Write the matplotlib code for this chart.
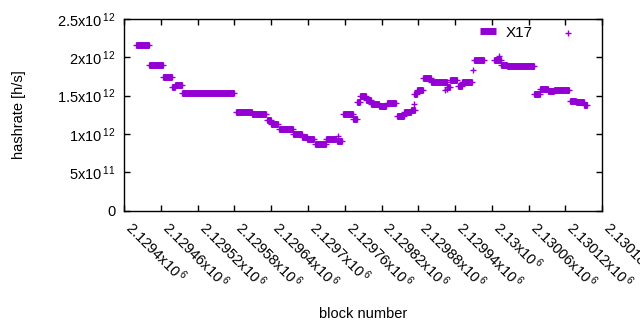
import matplotlib
matplotlib.use('Agg')
import numpy as np
import matplotlib.pyplot as plt
from matplotlib.lines import Line2D

plt.rcParams['font.family'] = ['Liberation Sans', 'DejaVu Sans']
plt.rcParams['mathtext.fontset'] = 'custom'
plt.rcParams['mathtext.rm'] = 'Liberation Sans'
plt.rcParams['mathtext.default'] = 'regular'

PURPLE = '#9400d3'

# runs of blocks sharing the same hashrate estimate
seg_start = [2129420, 2129440, 2129464, 2129478, 2129483, 2129494, 2129582, 2129609,
             2129633, 2129640, 2129653, 2129676, 2129690, 2129699, 2129711, 2129730,
             2129747, 2129757, 2129773, 2129780, 2129785, 2129795, 2129803, 2129815,
             2129829, 2129845, 2129857, 2129868, 2129873, 2129878, 2129887, 2129901,
             2129927, 2129931, 2129944, 2129952, 2129970, 2130004, 2130015, 2130025,
             2130069, 2130079, 2130091, 2130102, 2130127, 2130138, 2130150]
seg_end = [2129440, 2129463, 2129478, 2129483, 2129494, 2129580, 2129608, 2129632,
           2129640, 2129651, 2129675, 2129690, 2129698, 2129710, 2129729, 2129746,
           2129756, 2129773, 2129780, 2129785, 2129795, 2129803, 2129815, 2129828,
           2129843, 2129857, 2129868, 2129874, 2129878, 2129887, 2129900, 2129926,
           2129931, 2129943, 2129952, 2129968, 2129987, 2130015, 2130025, 2130068,
           2130079, 2130091, 2130102, 2130125, 2130138, 2130150, 2130155]
seg_hashrate = [2.16e12, 1.90e12, 1.745e12, 1.615e12, 1.64e12, 1.54e12, 1.29e12, 1.265e12,
                1.18e12, 1.13e12, 1.06e12, 0.995e12, 0.965e12, 0.935e12, 0.865e12, 0.93e12,
                0.915e12, 1.265e12, 1.20e12, 1.415e12, 1.49e12, 1.44e12, 1.395e12, 1.36e12,
                1.41e12, 1.24e12, 1.285e12, 1.31e12, 1.525e12, 1.567e12, 1.73e12, 1.68e12,
                1.61e12, 1.705e12, 1.62e12, 1.675e12, 1.965e12, 1.97e12, 1.90e12, 1.887e12,
                1.525e12, 1.59e12, 1.555e12, 1.575e12, 1.43e12, 1.42e12, 1.38e12]

# isolated blocks
point_block = [2129969, 2130012, 2130124, 2129873, 2129749, 2129927, 2129924]
point_hashrate = [1.835e12, 2.01e12, 2.315e12, 1.395e12, 0.97e12, 1.59e12, 1.567e12]

xtick_values = [2129400, 2129460, 2129520, 2129580, 2129640, 2129700, 2129760,
                2129820, 2129880, 2129940, 2130000, 2130060, 2130120, 2130180]
xtick_labels = ['2.1294', '2.12946', '2.12952', '2.12958', '2.12964', '2.1297', '2.12976',
                '2.12982', '2.12988', '2.12994', '2.13', '2.13006', '2.13012', '2.13018']
ytick_values = [0, 0.5e12, 1.0e12, 1.5e12, 2.0e12, 2.5e12]
ytick_labels = ['0', r'5x10$^{\,11}$', r'1x10$^{\,12}$', r'1.5x10$^{\,12}$',
                r'2x10$^{\,12}$', r'2.5x10$^{\,12}$']

fig = plt.figure(figsize=(6.4, 3.3), dpi=100)
ax = fig.add_axes([0.194, 0.361, 0.747, 0.582])

ax.hlines(seg_hashrate, seg_start, seg_end, colors=PURPLE, linewidth=5, capstyle='butt')
ax.plot(seg_start + seg_end, seg_hashrate + seg_hashrate, '+', color=PURPLE, ms=5, mew=1)
ax.plot(point_block, point_hashrate, '+', color=PURPLE, ms=5, mew=1)

ax.set_xlim(xtick_values[0], xtick_values[-1])
ax.set_ylim(0, 2.5e12)
ax.set_xticks(xtick_values)
ax.set_xticklabels([l + r'x10$^{\,6}$' for l in xtick_labels], rotation=-45,
                   ha='left', va='baseline', rotation_mode='anchor', fontsize=10.5)
ax.set_yticks(ytick_values)
ax.set_yticklabels(ytick_labels, fontsize=10.5)
ax.tick_params(direction='in', length=4, width=1, top=True, right=True, pad=6)
ax.tick_params(axis='x', pad=13)
for s in ax.spines.values():
    s.set_linewidth(1)

ax.set_xlabel('block number', fontsize=10.5)
ax.xaxis.set_label_coords(0.5, -0.50)
ax.set_ylabel('hashrate [h/s]', fontsize=10.5)
ax.yaxis.set_label_coords(-0.205, 0.5)

h1 = Line2D([], [], color=PURPLE, lw=5, marker='+', ms=5, mew=1, solid_capstyle='butt')
ax.legend([h1], ['X17'], frameon=False, loc='upper right',
          bbox_to_anchor=(0.883, 1.036), fontsize=11, handlelength=1.1, numpoints=1,
          handletextpad=0.6)

fig.savefig('out.png', dpi=100)
